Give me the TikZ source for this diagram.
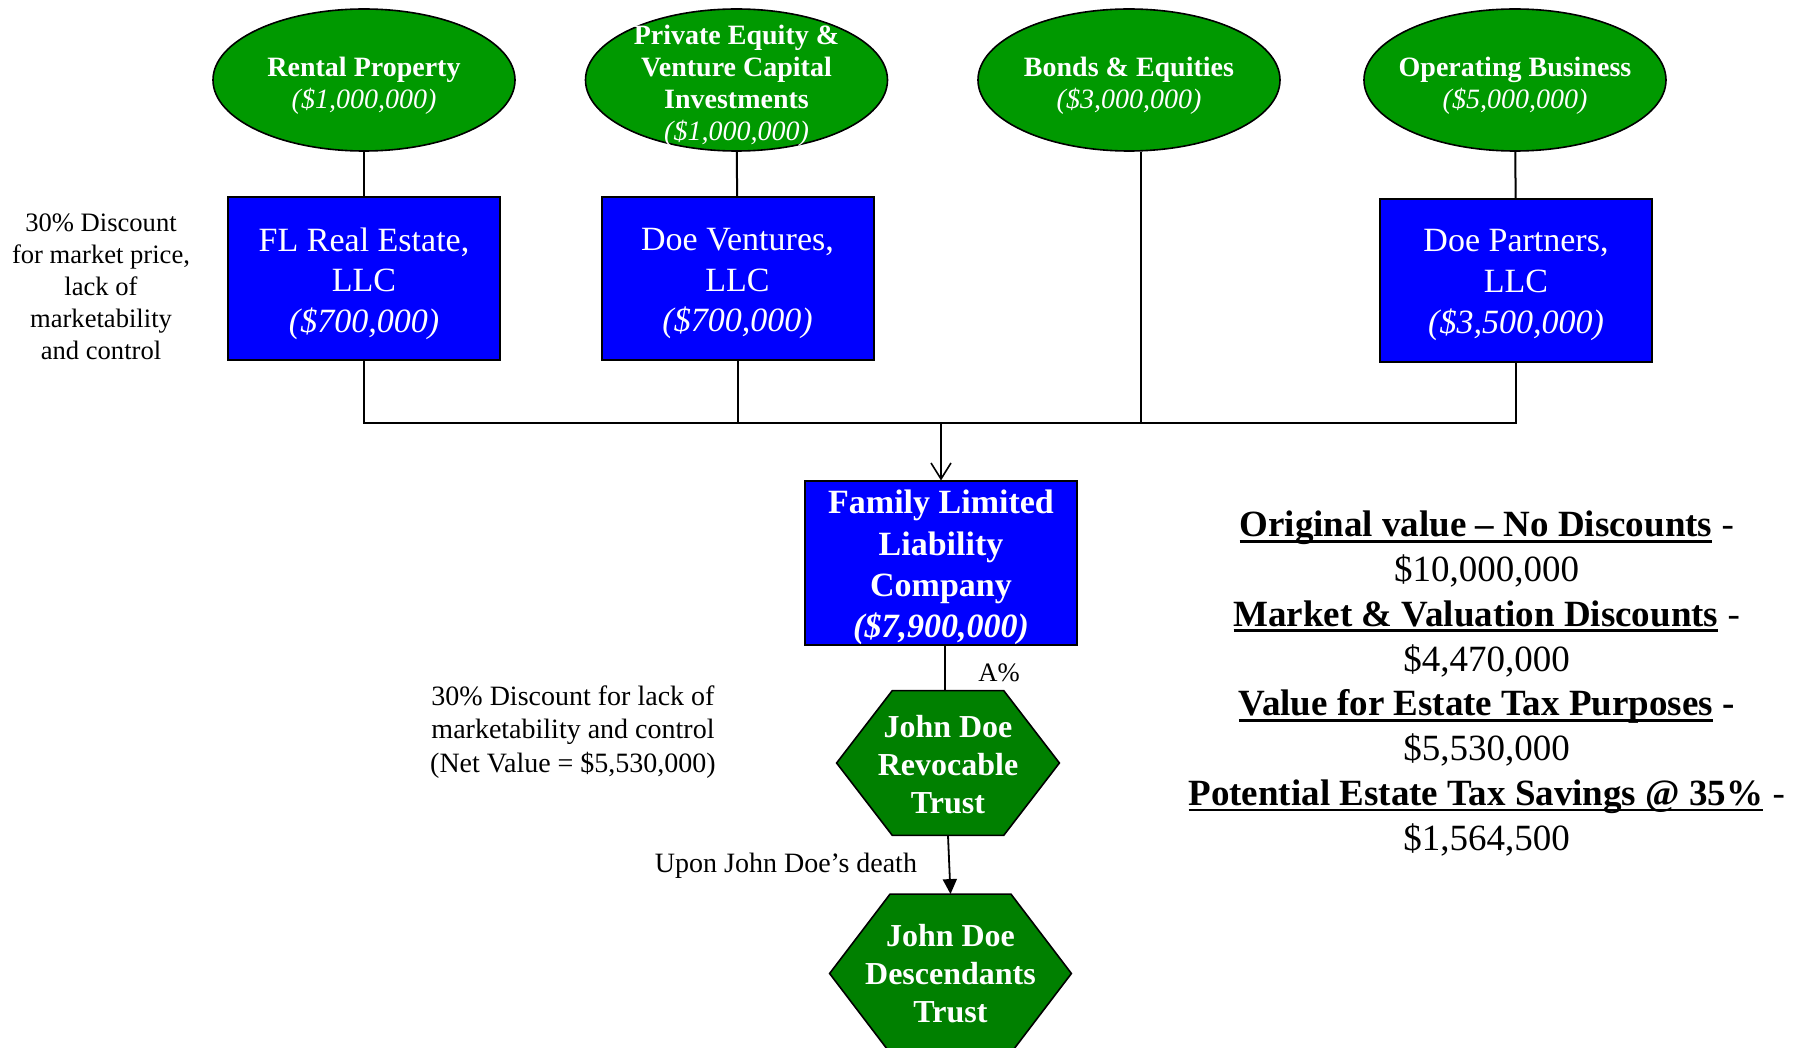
\documentclass[tikz,border=0pt]{standalone}
\usepackage{fontspec}
\setmainfont{Liberation Serif}
\usetikzlibrary{shapes.geometric,arrows.meta,calc}
\definecolor{assetgreen}{RGB}{0,153,0}
\definecolor{trustgreen}{RGB}{0,128,0}
\definecolor{llcblue}{RGB}{0,0,255}
% heavy underline for the summary headings
\newcommand\heavyul[1]{\setbox0=\hbox{#1}\rlap{\rule[-3pt]{\wd0}{1.4pt}}\box0\relax}

\begin{document}
\begin{tikzpicture}[x=0.5pt,y=-0.5pt,
  asset/.style={ellipse, draw, line width=0.8pt, fill=assetgreen,
    minimum width=151pt, minimum height=71pt, inner sep=0pt},
  assettext/.style={text=white, align=center, inner sep=0pt,
    font=\fontsize{14}{16}\selectfont\bfseries},
  llc/.style={rectangle, draw, line width=1pt, fill=llcblue,
    minimum width=136pt, minimum height=81.5pt, inner sep=0pt},
  llctext/.style={text=white, inner sep=0pt, align=center,
    font=\fontsize{17}{20.3}\selectfont},
  trust/.style={rectangle, draw=none, text=white, inner sep=0pt, align=center,
    font=\fontsize{16}{19.2}\selectfont\bfseries},
  hexline/.style={draw=black, line width=0.8pt, fill=trustgreen},
  note/.style={align=center, inner sep=0pt},
  link/.style={line width=1pt},
]
\useasboundingbox (0,0) rectangle (1796,1048);
\clip (0,0) rectangle (1796,1048);

% asset ellipses
\node[asset] (rent)  at (364,80) {};
\node[asset] (pe)    at (736.5,80) {};
\node[asset] (bonds) at (1129,80) {};
\node[asset] (opbiz) at (1515,80) {};
\node[assettext] (rent-t)  at (364,85.5) {Rental Property\\\mdseries\itshape (\$1,000,000)};
\node[assettext] (pe-t)    at (736.5,85.5) {Private Equity \&\\Venture Capital\\Investments\\\mdseries\itshape (\$1,000,000)};
\node[assettext] (bonds-t) at (1129,85.5) {Bonds \& Equities\\\mdseries\itshape (\$3,000,000)};
\node[assettext] (opbiz-t) at (1515,85.5) {Operating Business\\\mdseries\itshape (\$5,000,000)};

% holding companies
\node[llc] (fl) at (364,278.5) {};
\node[llc] (dv) at (737.5,278.5) {};
\node[llc] (dp) at (1516,280.5) {};
\node[llc] (fllc) at (941,563) {};
\node[llctext] (fl-t) at (364,283.5) {FL Real Estate,\\LLC\\\itshape (\$700,000)};
\node[llctext] (dv-t) at (737.5,283.5) {Doe Ventures,\\LLC\\\itshape (\$700,000)};
\node[llctext] (dp-t) at (1516,285) {Doe Partners,\\LLC\\\itshape (\$3,500,000)};
\node[llctext, font=\fontsize{17}{20.6}\selectfont\bfseries] (fllc-t) at (941,567.5)
  {Family Limited\\Liability\\Company\\\itshape (\$7,900,000)};

% trusts (hexagons drawn around their text nodes)
\node[trust, minimum width=111pt, minimum height=72pt] (rev) at (948,763) {};
\node[trust, minimum width=120.5pt, minimum height=79pt] (desc) at (950.5,973.5) {};
\path[hexline] (rev.west) -- ($(rev.north west)!0.25!(rev.north east)$)
  -- ($(rev.north west)!0.75!(rev.north east)$) -- (rev.east)
  -- ($(rev.south west)!0.75!(rev.south east)$)
  -- ($(rev.south west)!0.25!(rev.south east)$) -- cycle;
\path[hexline] (desc.west) -- ($(desc.north west)!0.25!(desc.north east)$)
  -- ($(desc.north west)!0.75!(desc.north east)$) -- (desc.east)
  -- ($(desc.south west)!0.75!(desc.south east)$)
  -- ($(desc.south west)!0.25!(desc.south east)$) -- cycle;
\node[trust] (rev-t) at (948,764.5) {John Doe\\Revocable\\Trust};
\node[trust] (desc-t) at (desc) {John Doe\\Descendants\\Trust};

% connectors
\coordinate (bus) at (941.5,422.6);
\draw[link] (rent) -- (fl);
\draw[link] (pe) -- (dv);
\draw[link] (opbiz) -- (dp);
\draw[link] (fl.south) |- (dp.south |- bus) -- (dp.south);
\draw[link] (dv.south) -- (dv.south |- bus);
\draw[link] ([xshift=6pt]bonds.south) -- ([xshift=6pt]bonds.south |- bus);
\draw[line width=0.8pt, -{Straight Barb[length=8pt,width=10pt]}] (bus -| fllc.north) -- (fllc.north);
\draw[line width=1.3pt] ([xshift=2pt]fllc.south) -- ([xshift=2pt]fllc.south |- rev.north);
\draw[line width=0.9pt, -{Triangle[length=7.5pt,width=7pt]}] (rev.south) -- (desc.north);

% notes
\node[note, font=\fontsize{13.3}{16}\selectfont] (note1) at (101,287)
  {30\% Discount\\for market price,\\lack of\\marketability\\and control};
\node[note, font=\fontsize{14}{16.9}\selectfont] (note2) at (573,732)
  {30\% Discount for lack of\\marketability and control\\(Net Value = \$5,530,000)};
\node[note, font=\fontsize{14}{16.9}\selectfont] (death) at (786,866) {Upon John Doe’s death};
\node[note, font=\fontsize{13.3}{16}\selectfont] (apct) at (999,673) {A\%};

% summary of values
\node[note, font=\fontsize{18.5}{22.4}\selectfont] (summary) at (1486.7,683.5)
  {\heavyul{\textbf{Original value – No Discounts}} -\\
   \$10,000,000\\
   \heavyul{\textbf{Market \& Valuation Discounts}} -\\
   \$4,470,000\\
   \heavyul{\textbf{Value for Estate Tax Purposes}} \textbf{-}\\
   \$5,530,000\\
   \heavyul{\textbf{Potential Estate Tax Savings @ 35\%}} -\\
   \$1,564,500};
\end{tikzpicture}
\end{document}
